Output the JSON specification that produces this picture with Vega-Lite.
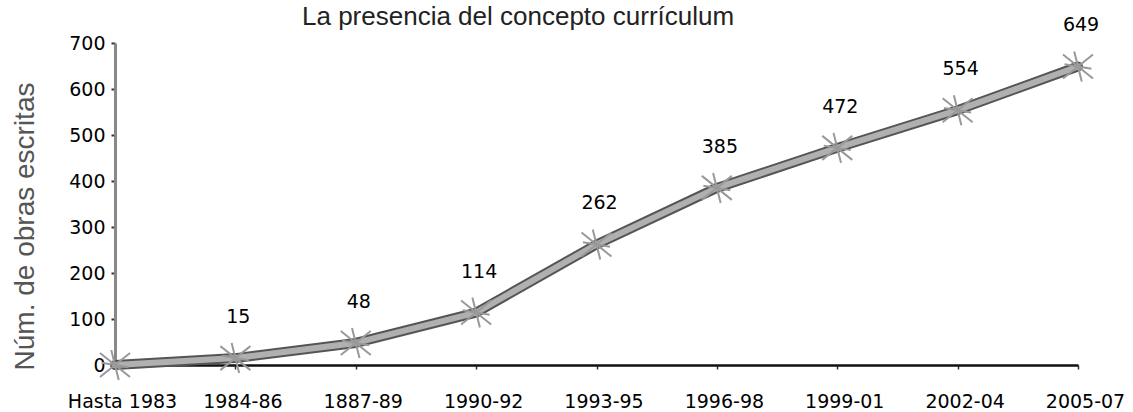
{
  "$schema": "https://vega.github.io/schema/vega-lite/v6.json",
  "autosize": "none",
  "width": 963,
  "height": 322,
  "padding": {"left": 115, "top": 43, "right": 55, "bottom": 47},
  "background": "white",
  "title": {
    "text": "La presencia del concepto currículum",
    "font": "Liberation Sans",
    "fontSize": 26,
    "fontWeight": "normal",
    "color": "#222",
    "anchor": "start",
    "frame": "group",
    "baseline": "alphabetic",
    "dx": 187,
    "dy": 37,
    "offset": 2
  },
  "config": {
    "view": {"stroke": null},
    "axis": {"grid": false}
  },
  "data": {
    "values": [
      {"periodo": "Hasta 1983", "obras": 0},
      {"periodo": "1984-86", "obras": 15},
      {"periodo": "1887-89", "obras": 48},
      {"periodo": "1990-92", "obras": 114},
      {"periodo": "1993-95", "obras": 262},
      {"periodo": "1996-98", "obras": 385},
      {"periodo": "1999-01", "obras": 472},
      {"periodo": "2002-04", "obras": 554},
      {"periodo": "2005-07", "obras": 649}
    ]
  },
  "encoding": {
    "x": {
      "field": "periodo",
      "type": "ordinal",
      "sort": null,
      "scale": {"type": "point", "padding": 0},
      "axis": {
        "title": null,
        "labelAngle": 0,
        "labelFont": "DejaVu Sans",
        "labelFontSize": 19,
        "labelColor": "#000",
        "labelBaseline": "alphabetic",
        "labelPadding": 38,
        "labelOffset": 7,
        "tickSize": 4,
        "tickColor": "#333",
        "tickWidth": 1.5,
        "domainColor": "#111",
        "domainWidth": 2.5
      }
    },
    "y": {
      "field": "obras",
      "type": "quantitative",
      "scale": {"domain": [0, 700], "nice": false},
      "axis": {
        "title": "Núm. de obras escritas",
        "titleFont": "Liberation Sans",
        "titleFontSize": 28,
        "titleFontWeight": "normal",
        "titleColor": "#555",
        "titleAngle": 270,
        "titleBaseline": "alphabetic",
        "titleAlign": "center",
        "titleX": -82,
        "titleY": 183,
        "values": [0, 100, 200, 300, 400, 500, 600, 700],
        "labelFont": "DejaVu Sans",
        "labelFontSize": 19,
        "labelColor": "#000",
        "labelPadding": 6,
        "tickSize": 4,
        "tickColor": "#333",
        "tickWidth": 2,
        "domainColor": "#888",
        "domainWidth": 3
      }
    }
  },
  "layer": [
    {
      "mark": {"type": "line", "color": "#555555", "strokeWidth": 10, "strokeCap": "round", "strokeJoin": "round"}
    },
    {
      "mark": {"type": "line", "color": "#b0b0b0", "strokeWidth": 6, "strokeCap": "round", "strokeJoin": "round"}
    },
    {
      "mark": {
        "type": "point",
        "shape": "M-1,-0.8L1,0.8M-1,0.8L1,-0.8M-0.25,-1L0.25,1M-0.9,-0.15L0.9,0.15",
        "size": 900,
        "filled": false,
        "color": "#999",
        "strokeWidth": 2,
        "opacity": 1
      }
    },
    {
      "transform": [{"filter": "datum.obras > 0"}],
      "mark": {
        "type": "text",
        "font": "DejaVu Sans",
        "fontSize": 19,
        "color": "#000",
        "baseline": "alphabetic",
        "align": "center",
        "dy": -35,
        "dx": 3
      },
      "encoding": {"text": {"field": "obras", "type": "quantitative"}}
    }
  ]
}
